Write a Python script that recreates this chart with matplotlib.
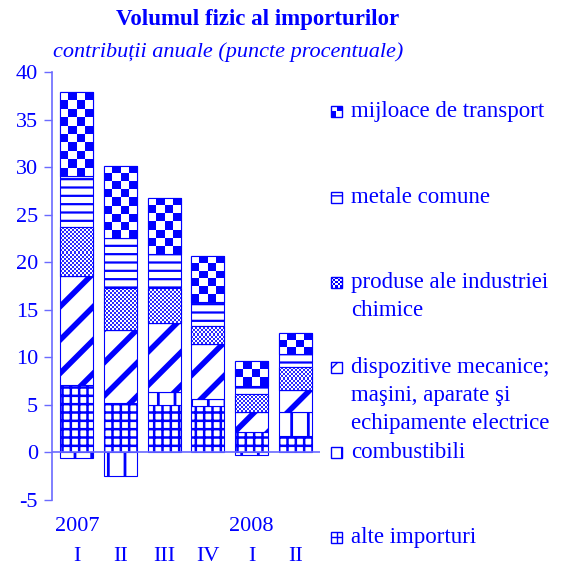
import numpy as np
import matplotlib
matplotlib.use("Agg")
import matplotlib.pyplot as plt
from matplotlib.patches import Rectangle
from matplotlib.colors import ListedColormap

# ---- data (puncte procentuale) ----
trimestre = ["I", "II", "III", "IV", "I", "II"]
ani = ["2007", "2008"]
ani_pos = [0, 4]

alte_importuri = [7.1, 5.2, 5.0, 4.9, 2.1, 1.7]
combustibili = [-0.6, -2.5, 1.4, 0.7, -0.3, 2.5]
dispozitive = [11.5, 7.7, 7.2, 5.8, 2.2, 2.4]
chimice = [5.1, 4.4, 3.7, 1.9, 1.8, 2.4]
metale = [5.4, 5.2, 3.6, 2.5, 0.9, 1.4]
transport = [8.8, 7.6, 5.9, 4.9, 2.65, 2.2]

# (label, values, hatch, hatch linewidth, checker cell px or None)
serii = [
    ("alte importuri", alte_importuri, "++", 1.8, None),
    ("combustibili", combustibili, "|", 2.0, None),
    ("dispozitive mecanice;\nmaşini, aparate şi\nechipamente electrice", dispozitive, "/", 4.0, None),
    ("produse ale industriei\nchimice", chimice, None, 1.0, 2.0),
    ("metale comune", metale, "--", 1.6, None),
    ("mijloace de transport", transport, None, 1.0, 8.3),
]

BLUE = "#0000ff"
AXC = "#6a6aff"
FS = 16
plt.rcParams["font.family"] = ["Liberation Serif", "DejaVu Serif"]
plt.rcParams["hatch.color"] = BLUE
plt.rcParams["axes.unicode_minus"] = False

fig = plt.figure(figsize=(5.68, 5.65), dpi=100)
W, H = 568, 565


def fx(x):
    return x / W


def fy(y):
    return 1 - y / H


ax = fig.add_axes([fx(52), fy(500), fx(320) - fx(52), fy(72) - fy(500)])
ax.set_xlim(-0.57, 5.57)
ax.set_ylim(-5, 40)

x = np.arange(len(trimestre))
pos_base = np.zeros(len(x))
neg_base = np.zeros(len(x))
for nume, vals, hatch, hlw, cell in serii:
    vals = np.array(vals, dtype=float)
    bottoms = np.where(vals >= 0, pos_base, neg_base)
    with plt.rc_context({"hatch.linewidth": hlw}):
        bars = ax.bar(x, vals, width=0.76, bottom=bottoms, color="white",
                      edgecolor=BLUE, linewidth=0.8, hatch=hatch, zorder=2)
    pos_base += np.where(vals >= 0, vals, 0)
    neg_base += np.where(vals < 0, vals, 0)
    if cell is None:
        continue
    # checker pattern clipped to each bar
    dark = BLUE if cell > 4 else "#2a2aff"
    chk_cmap = ListedColormap(["white", dark])
    for b in bars:
        bx, by, bw, bh = b.get_x(), b.get_y(), b.get_width(), b.get_height()
        disp = ax.transData.transform([[bx, by], [bx + bw, by + bh]])
        ncol = max(1, int(round((disp[1, 0] - disp[0, 0]) / cell)))
        nrow = max(1, int(round(abs(disp[1, 1] - disp[0, 1]) / cell)))
        chk = (np.add.outer(np.arange(nrow), np.arange(ncol)) % 2).astype(float)
        im = ax.imshow(chk, cmap=chk_cmap, vmin=0, vmax=1,
                       extent=[bx, bx + bw, by, by + bh], origin="upper",
                       interpolation="nearest", aspect="auto", zorder=2.5)
        im.set_clip_path(b)
        ax.add_patch(Rectangle((bx, by), bw, bh, fill=False, edgecolor=BLUE,
                               linewidth=0.8, zorder=3))

ax.axhline(0, color=AXC, linewidth=1.2, zorder=4)

ax.set_xlim(-0.57, 5.57)
ax.set_ylim(-5, 40)
ax.set_yticks(np.arange(-5, 41, 5))
ax.set_xticks(x)
ax.set_xticklabels(trimestre)
ax.tick_params(axis="x", length=0, pad=34, labelsize=FS, labelcolor=BLUE)
ax.tick_params(axis="y", direction="out", length=6, width=1, color=AXC,
               pad=4, labelsize=FS, labelcolor=BLUE)
for s in ["top", "right", "bottom"]:
    ax.spines[s].set_visible(False)
ax.spines["left"].set_color(AXC)
ax.spines["left"].set_linewidth(1.2)

for an, p in zip(ani, ani_pos):
    ax.annotate(an, xy=(p, 0), xycoords=("data", "axes fraction"),
                xytext=(0, -19), textcoords="offset points",
                ha="center", va="center", fontsize=FS, color=BLUE)

fig.text(fx(258), fy(19), "Volumul fizic al importurilor", ha="center",
         va="center", fontsize=16.5, fontweight="bold", color=BLUE)
fig.text(fx(53), fy(52), "contribuții anuale (puncte procentuale)", ha="left",
         va="center", fontsize=16, style="italic", color=BLUE)

# ---- legend drawn at right ----
leg_y = [111, 197, 282, 367, 452, 537]
order = [5, 4, 3, 2, 1, 0]
sz = 11
for yy, i in zip(leg_y, order):
    nume, vals, hatch, hlw, cell = serii[i]
    for k, line in enumerate(nume.split("\n")):
        fig.text(fx(351), fy(yy + 6 + 28 * k), line, ha="left", va="baseline",
                 fontsize=16.5, color=BLUE)
    with plt.rc_context({"hatch.linewidth": 1.0}):
        r = Rectangle((fx(331), fy(yy + sz / 2)), fx(sz), sz / H,
                      transform=fig.transFigure, facecolor="white",
                      edgecolor=BLUE, linewidth=1.0,
                      hatch="//" if hatch == "/" else hatch)
    fig.patches.append(r)
    if cell is not None:
        n = 2 if cell > 4 else 5
        c = sz / n
        for qx in range(n):
            for qy in range(n):
                if (qx + qy) % 2 == 0:
                    q = Rectangle((fx(331 + qx * c), fy(yy + sz / 2 - qy * c)),
                                  fx(c), c / H, transform=fig.transFigure,
                                  facecolor=BLUE, edgecolor="none")
                    fig.patches.append(q)

fig.savefig("out.png", dpi=100)
